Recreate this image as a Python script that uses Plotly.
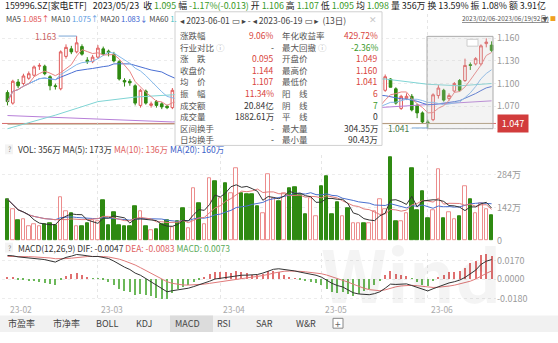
import plotly.graph_objects as go
import pandas as pd

W, H = 558, 343
def X(px): return px / W
def Y(py): return 1 - py / H

# ---------------- data ----------------
holidays = pd.to_datetime(["2023-04-05", "2023-05-01", "2023-05-02", "2023-05-03"])
days = pd.bdate_range("2023-02-06", "2023-06-19")
days = days[~days.isin(holidays)]
dates = [d.strftime("%Y-%m-%d") for d in days]

opens = [1.088, 1.074, 1.102, 1.100, 1.107, 1.111, 1.123, 1.123, 1.109, 1.097,
         1.093, 1.136, 1.146, 1.142, 1.149, 1.131, 1.129, 1.135, 1.146, 1.143,
         1.139, 1.129, 1.104, 1.103, 1.097, 1.071, 1.090, 1.071, 1.076, 1.073,
         1.070, 1.068, 1.090, 1.084, 1.077, 1.080, 1.094, 1.087, 1.092, 1.107,
         1.099, 1.106, 1.098, 1.108, 1.124, 1.117, 1.112, 1.108, 1.103, 1.108,
         1.121, 1.125, 1.117, 1.120, 1.111, 1.100, 1.092, 1.088, 1.095, 1.097,
         1.089, 1.080, 1.075, 1.068, 1.071, 1.061, 1.063, 1.066, 1.061, 1.066,
         1.072, 1.091, 1.106, 1.093, 1.067, 1.080, 1.083, 1.071, 1.061, 1.049,
         1.052, 1.084, 1.091, 1.080, 1.090, 1.104, 1.104, 1.125, 1.126, 1.126,
         1.153, 1.151]
highs = [1.091, 1.105, 1.106, 1.113, 1.116, 1.124, 1.127, 1.125, 1.111, 1.100,
         1.144, 1.152, 1.150, 1.163, 1.152, 1.135, 1.138, 1.151, 1.149, 1.145,
         1.142, 1.131, 1.107, 1.106, 1.099, 1.093, 1.092, 1.076, 1.078, 1.075,
         1.072, 1.094, 1.093, 1.087, 1.084, 1.098, 1.097, 1.095, 1.111, 1.110,
         1.109, 1.109, 1.111, 1.129, 1.127, 1.120, 1.115, 1.111, 1.111, 1.125,
         1.129, 1.128, 1.125, 1.123, 1.114, 1.103, 1.095, 1.098, 1.101, 1.100,
         1.092, 1.083, 1.078, 1.075, 1.074, 1.067, 1.069, 1.069, 1.068, 1.075,
         1.086, 1.112, 1.107, 1.095, 1.085, 1.087, 1.086, 1.073, 1.063, 1.052,
         1.087, 1.098, 1.093, 1.087, 1.102, 1.106, 1.133, 1.128, 1.135, 1.152,
         1.160, 1.156]
lows = [1.071, 1.072, 1.094, 1.098, 1.105, 1.109, 1.118, 1.111, 1.091, 1.092,
        1.091, 1.133, 1.139, 1.140, 1.137, 1.126, 1.127, 1.133, 1.137, 1.136,
        1.128, 1.104, 1.096, 1.097, 1.071, 1.068, 1.072, 1.068, 1.068, 1.066,
        1.066, 1.066, 1.083, 1.075, 1.074, 1.078, 1.086, 1.085, 1.090, 1.098,
        1.097, 1.096, 1.096, 1.106, 1.115, 1.110, 1.106, 1.102, 1.101, 1.106,
        1.119, 1.116, 1.115, 1.110, 1.098, 1.090, 1.085, 1.086, 1.093, 1.088,
        1.078, 1.073, 1.067, 1.066, 1.060, 1.059, 1.061, 1.059, 1.059, 1.064,
        1.070, 1.089, 1.095, 1.072, 1.065, 1.078, 1.063, 1.054, 1.047, 1.041,
        1.050, 1.080, 1.076, 1.077, 1.088, 1.089, 1.102, 1.118, 1.124, 1.124,
        1.148, 1.142]
closes = [1.076, 1.103, 1.097, 1.110, 1.113, 1.122, 1.124, 1.113, 1.097, 1.096,
          1.142, 1.148, 1.142, 1.154, 1.139, 1.129, 1.135, 1.147, 1.139, 1.141,
          1.130, 1.106, 1.102, 1.101, 1.074, 1.091, 1.074, 1.073, 1.071, 1.069,
          1.068, 1.091, 1.085, 1.078, 1.080, 1.095, 1.088, 1.092, 1.108, 1.100,
          1.106, 1.098, 1.108, 1.125, 1.118, 1.112, 1.108, 1.104, 1.108, 1.122,
          1.126, 1.118, 1.122, 1.112, 1.100, 1.092, 1.088, 1.095, 1.098, 1.090,
          1.080, 1.075, 1.070, 1.072, 1.062, 1.064, 1.066, 1.061, 1.066, 1.072,
          1.083, 1.109, 1.095, 1.074, 1.083, 1.083, 1.065, 1.061, 1.049, 1.047,
          1.085, 1.094, 1.078, 1.084, 1.100, 1.091, 1.124, 1.124, 1.133, 1.150,
          1.155, 1.144]
# volume, 万
volume = [178, 133, 87, 94, 63, 70, 63, 70, 77, 66,
          187, 126, 119, 63, 63, 74, 88, 84, 173, 66,
          122, 66, 63, 63, 150, 126, 60, 46, 49, 70,
          88, 56, 85, 140, 55, 225, 161, 70, 267, 257,
          183, 246, 204, 309, 204, 201, 198, 147, 117, 284,
          183, 169, 204, 225, 228, 197, 112, 183, 103, 232,
          277, 112, 164, 103, 139, 77, 77, 77, 74, 126,
          178, 135, 356, 84, 84, 119, 309, 129, 211, 98,
          131, 305, 98, 122, 91, 103, 232, 178, 119, 159,
          136, 108]
dif = [0.0218, 0.0215, 0.0205, 0.0200, 0.0195, 0.0192, 0.0188, 0.0180, 0.0168, 0.0157,
       0.0180, 0.0200, 0.0212, 0.0227, 0.0222, 0.0212, 0.0208, 0.0209, 0.0200, 0.0190,
       0.0166, 0.0135, 0.0110, 0.0088, 0.0055, 0.0035, 0.0005, -0.0027, -0.0060, -0.0090,
       -0.0118, -0.0108, -0.0100, -0.0095, -0.0085, -0.0070, -0.0055, -0.0040, -0.0020, 0.0000,
       0.0008, 0.0012, 0.0018, 0.0030, 0.0035, 0.0036, 0.0036, 0.0042, 0.0055, 0.0075,
       0.0090, 0.0095, 0.0090, 0.0082, 0.0075, 0.0064, 0.0055, 0.0045, 0.0035, 0.0018,
       -0.0010, -0.0040, -0.0060, -0.0073, -0.0100, -0.0127, -0.0138, -0.0143, -0.0145, -0.0135,
       -0.0118, -0.0085, -0.0047, -0.0050, -0.0048, -0.0045, -0.0060, -0.0078, -0.0098, -0.0110,
       -0.0090, -0.0070, -0.0055, -0.0036, -0.0025, -0.0010, 0.0015, 0.0050, 0.0082, 0.0135,
       0.0165, 0.0180]
dea = [0.0209, 0.0210, 0.0210, 0.0209, 0.0207, 0.0205, 0.0203, 0.0200, 0.0195, 0.0188,
       0.0186, 0.0189, 0.0193, 0.0200, 0.0205, 0.0208, 0.0209, 0.0210, 0.0208, 0.0204,
       0.0196, 0.0184, 0.0168, 0.0150, 0.0130, 0.0105, 0.0080, 0.0055, 0.0030, 0.0003,
       -0.0025, -0.0040, -0.0050, -0.0055, -0.0056, -0.0055, -0.0052, -0.0047, -0.0040, -0.0032,
       -0.0024, -0.0017, -0.0010, -0.0003, 0.0005, 0.0011, 0.0018, 0.0024, 0.0032, 0.0042,
       0.0055, 0.0066, 0.0072, 0.0074, 0.0074, 0.0071, 0.0067, 0.0062, 0.0057, 0.0049,
       0.0037, 0.0022, 0.0007, -0.0010, -0.0028, -0.0048, -0.0068, -0.0085, -0.0098, -0.0106,
       -0.0108, -0.0100, -0.0083, -0.0072, -0.0064, -0.0058, -0.0058, -0.0062, -0.0069, -0.0075,
       -0.0078, -0.0076, -0.0072, -0.0065, -0.0057, -0.0047, -0.0035, -0.0020, 0.0000, 0.0028,
       0.0052, 0.0075]
# long moving averages (sparse readings)
ma60_dates = ["2023-02-06", "2023-02-17", "2023-03-01", "2023-03-10", "2023-03-21",
              "2023-04-07", "2023-04-21", "2023-05-12", "2023-05-22", "2023-06-01",
              "2023-06-09", "2023-06-19"]
ma60_vals = [1.040, 1.058, 1.076, 1.082, 1.085, 1.094, 1.101, 1.106, 1.106, 1.099, 1.097, 1.100]
ma120_dates = ["2023-02-06", "2023-02-27", "2023-03-21", "2023-04-19", "2023-05-12",
               "2023-06-01", "2023-06-19"]
ma120_vals = [1.0575, 1.053, 1.049, 1.058, 1.066, 1.072, 1.077]
ma250_dates = ["2023-02-06", "2023-06-19"]
ma250_vals = [1.046, 1.047]
cursor_price = 1.047

month_dates = ["2023-02-06", "2023-03-01", "2023-04-03", "2023-05-04", "2023-06-01"]
month_labels = ["23-02", "23-03", "23-04", "23-05", "23-06"]

popup_left_labels = ["涨跌幅", "行业对比", "涨　跌", "收盘价", "均　价", "振　幅", "成交额", "成交量", "区间换手", "日均换手"]
popup_left_values = ["9.06%", "-", "0.095", "1.144", "1.107", "11.34%", "20.84亿", "1882.61万", "-", "-"]
popup_right_labels = ["年化收益率", "最大回撤", "开盘价", "最高价", "最低价", "阳　线", "阴　线", "平　线", "最大量", "最小量"]
popup_right_values = ["429.72%", "-2.36%", "1.049", "1.160", "1.041", "6", "7", "0", "304.35万", "90.43万"]

tabs = ["市盈率", "市净率", "BOLL", "KDJ", "MACD", "RSI", "SAR", "W&R"]

# ---------------- styles ----------------
RED = "#e05a5a"
GRN = "#2f8a12"
FONT = "Noto Sans CJK SC, DejaVu Sans, sans-serif"
up = [c >= o for o, c in zip(opens, closes)]

s_close = pd.Series(closes)
ma5 = s_close.rolling(5, min_periods=1).mean()
ma10 = s_close.rolling(10, min_periods=1).mean()
ma20 = s_close.rolling(20, min_periods=1).mean()
s_vol = pd.Series(volume)
vma5 = s_vol.rolling(5, min_periods=1).mean()
vma10 = s_vol.rolling(10, min_periods=1).mean()
vma20 = s_vol.rolling(20, min_periods=1).mean()
macd = [2 * (a - b) for a, b in zip(dif, dea)]

fig = go.Figure()
# price pane
for xs, ys, col in [(ma250_dates, ma250_vals, "#b2a383"), (ma120_dates, ma120_vals, "#b77fd8"),
                    (ma60_dates, ma60_vals, "#7fd4d4"), (dates, ma20, "#4a6fd3"),
                    (dates, ma10, "#86b9ea"), (dates, ma5, "#e98484")]:
    fig.add_trace(go.Scatter(x=xs, y=ys, mode="lines", line=dict(color=col, width=1),
                             xaxis="x", yaxis="y", hoverinfo="skip"))
fig.add_trace(go.Candlestick(x=dates, open=opens, high=highs, low=lows, close=closes,
                             increasing=dict(line=dict(color=RED, width=1), fillcolor="white"),
                             decreasing=dict(line=dict(color=GRN, width=1), fillcolor=GRN),
                             whiskerwidth=0, xaxis="x", yaxis="y", hoverinfo="skip"))
# volume pane
fig.add_trace(go.Bar(x=dates, y=volume, width=0.66,
                     marker=dict(color=["white" if u else GRN for u in up],
                                 line=dict(color=["#ec8c8c" if u else GRN for u in up], width=1)),
                     xaxis="x2", yaxis="y2", hoverinfo="skip"))
for ys, col in [(vma20, "#4a70d0"), (vma10, "#e07a7a"), (vma5, "#333333")]:
    fig.add_trace(go.Scatter(x=dates, y=ys, mode="lines", line=dict(color=col, width=1),
                             xaxis="x2", yaxis="y2", hoverinfo="skip"))
# macd pane
fig.add_trace(go.Bar(x=dates, y=macd, width=0.22,
                     marker=dict(color=["#e07070" if v >= 0 else "#6cb85a" for v in macd], line=dict(width=0)),
                     xaxis="x3", yaxis="y3", hoverinfo="skip"))
fig.add_trace(go.Scatter(x=dates, y=dea, mode="lines", line=dict(color="#e07a7a", width=1),
                         xaxis="x3", yaxis="y3", hoverinfo="skip"))
fig.add_trace(go.Scatter(x=dates, y=dif, mode="lines", line=dict(color="#333333", width=1),
                         xaxis="x3", yaxis="y3", hoverinfo="skip"))

xr = [-1.03, 91.83]
xcommon = dict(type="category", categoryorder="array", categoryarray=dates, range=xr,
               domain=[X(2), X(496)], showticklabels=False,
               tickvals=month_dates[1:], showgrid=True, gridcolor="#e6e6e6", griddash="dot",
               zeroline=False, showline=False, ticks="")
ycommon = dict(side="right", showgrid=True, gridcolor="#ececec", griddash="dot", zeroline=False,
               showline=False, ticks="", tickfont=dict(size=9, color="#9a9a9a", family=FONT))
fig.update_layout(
    width=W, height=H, margin=dict(l=0, r=0, t=0, b=0), showlegend=False,
    paper_bgcolor="white", plot_bgcolor="white", bargap=0,
    font=dict(family=FONT, size=9, color="#333"),
    xaxis=dict(xcommon, anchor="y", rangeslider=dict(visible=False)),
    xaxis2=dict(xcommon, anchor="y2", matches="x"),
    xaxis3=dict(xcommon, anchor="y3", matches="x"),
    yaxis=dict(ycommon, domain=[Y(138), Y(14)], range=[1.0309, 1.1926],
               tickvals=[1.04, 1.07, 1.10, 1.13, 1.16], ticktext=["1.040", "1.070", "1.100", "1.130", "1.160"]),
    yaxis2=dict(ycommon, domain=[Y(245), Y(158)], range=[0, 366.6],
                tickvals=[0, 142, 284], ticktext=["0", "142万", "284万"]),
    yaxis3=dict(ycommon, domain=[Y(306), Y(258)], range=[-0.02, 0.02364],
                tickvals=[-0.018, 0, 0.017], ticktext=["-0.0180", "0.0000", "0.0170"]),
)

shapes = []
anns = []
def txt(px, py, s, size=9, color="#333", anchor="left", **kw):
    anns.append(dict(x=X(px), y=Y(py), xref="paper", yref="paper", text=s, showarrow=False,
                     xanchor=anchor, yanchor="middle", font=dict(size=size, color=color, family=FONT), **kw))

# cursor line + selection box
shapes.append(dict(type="line", xref="paper", yref="y", x0=X(2), x1=X(496), y0=cursor_price, y1=cursor_price,
                   line=dict(color="#d96a6a", width=1), layer="below"))
shapes.append(dict(type="rect", xref="paper", yref="paper", x0=X(427), x1=X(493), y0=Y(131), y1=Y(37),
                   fillcolor="rgba(200,200,200,0.22)", line=dict(color="#aaaaaa", width=1), layer="above"))
shapes.append(dict(type="rect", xref="paper", yref="paper", x0=X(467), x1=X(478), y0=Y(47), y1=Y(40),
                   fillcolor="white", line=dict(color="#cccccc", width=1), layer="above"))
# popup box
shapes.append(dict(type="rect", xref="paper", yref="paper", x0=X(175), x1=X(382), y0=Y(148), y1=Y(12),
                   fillcolor="white", line=dict(color="#d0d0d0", width=1), layer="above"))
# bottom tab bar
shapes.append(dict(type="rect", xref="paper", yref="paper", x0=0, x1=1, y0=Y(338), y1=Y(321),
                   fillcolor="#f1f1f1", line=dict(width=0), layer="above"))
shapes.append(dict(type="rect", xref="paper", yref="paper", x0=X(170), x1=X(213), y0=Y(338), y1=Y(321),
                   fillcolor="#dcdcdc", line=dict(width=0), layer="above"))
shapes.append(dict(type="rect", xref="paper", yref="paper", x0=X(333), x1=X(343), y0=Y(334), y1=Y(324),
                   fillcolor="white", line=dict(color="#888", width=1), layer="above"))
# ? boxes
for py in (152, 252):
    shapes.append(dict(type="rect", xref="paper", yref="paper", x0=X(5), x1=X(13), y0=Y(py + 5), y1=Y(py - 5),
                       fillcolor="#f3f3f3", line=dict(width=0), layer="above"))

G = "#3a9a2a"
def sp(s, c): return f"<span style='color:{c}'>{s}</span>"
nb = "\u00a0"
row1 = ("159996.SZ[家电ETF]" + nb * 3 + "2023/05/23" + nb * 2 + "收 " + sp("1.095", G) + nb + "幅 " +
        sp("-1.17%(-0.013)", G) + nb + "开 " + sp("1.106", G) + nb + "高 " + sp("1.107", G) + nb +
        "低 " + sp("1.095", G) + nb + "均 " + sp("1.098", G) + nb + "量 356万" + nb + "换 13.59%" +
        nb + "振 1.08%" + nb + "额 3.91亿")
txt(3, 6, row1, size=8.9, color="#222")
row2 = ("MA5 " + sp("1.085↑", "#e04848") + nb + "MA10 " + sp("1.075↑", "#5a9ae0") + nb + "MA20 " +
        sp("1.083↓", "#3a5fd0") + nb + "MA60 " + sp("1.", "#3cc0c0"))
txt(4, 19, row2, size=7.6, color="#444")
txt(178, 20, "◂ 2023-06-01 ▭ ▸" + nb + "-" + nb + "◂ 2023-06-19 ▭ ▸" + nb * 2 + "(13日)", size=8.5, color="#444")
txt(373, 20, "✕", size=9, color="#c8c8c8", anchor="center")
txt(460, 19, "<u>2023/02/06-2023/06/19(92日)</u>", size=6.4, color="#555")
txt(545, 19, "▼", size=6, color="#555", anchor="center")
txt(553, 19, "■", size=6, color="#f0a020", anchor="center")

RED_T = "#d8443c"
left_cols = [RED_T, "#333", RED_T, RED_T, RED_T, RED_T, "#333", "#333", "#333", "#333"]
right_cols = [RED_T, G, RED_T, RED_T, RED_T, RED_T, G, "#333", "#333", "#333"]
for k in range(10):
    py = 35.7 + 11.8 * k
    lab = popup_left_labels[k] + (" <span style='color:#bbb'>ⓘ</span>" if k == 1 else "")
    txt(178, py, lab, size=8.5, color="#555")
    txt(276, py, popup_left_values[k], size=8.5, color=left_cols[k], anchor="right")
    lab2 = popup_right_labels[k] + (" <span style='color:#bbb'>ⓘ</span>" if k == 1 else "")
    txt(280, py, lab2, size=8.5, color="#555")
    txt(380, py, popup_right_values[k], size=8.5, color=right_cols[k], anchor="right")

# price marks
anns.append(dict(x=dates[13], y=1.163, xref="x", yref="y", text="1.163", showarrow=True, arrowhead=0,
                 ax=-18, ay=0, arrowcolor="#7aa6d6", arrowwidth=1, xanchor="right",
                 font=dict(size=8.5, color="#c86060", family=FONT)))
anns.append(dict(x=dates[79], y=1.041, xref="x", yref="y", text="1.041", showarrow=True, arrowhead=0,
                 ax=-16, ay=0, arrowcolor="#7aa6d6", arrowwidth=1, xanchor="right",
                 font=dict(size=8.5, color="#4a7a4a", family=FONT)))
anns.append(dict(x=X(497), y=cursor_price, xref="paper", yref="y", text=f"{cursor_price:.3f}", showarrow=False,
                 xanchor="left", yanchor="middle", bgcolor="#d23c3c", borderpad=2, width=26,
                 font=dict(size=9, color="white", family=FONT)))

# pane labels
txt(9, 152, "?", size=7, color="#888", anchor="center")
txt(16, 152, "VOL: 356万" + nb + "MA(5): 173万" + nb + sp("MA(10): 136万", "#e06060") + nb +
    sp("MA(20): 160万", "#3a60c8"), size=8.5, color="#333")
txt(9, 252, "?", size=7, color="#888", anchor="center")
txt(16, 252, "MACD(12,26,9)" + nb + "DIF: -0.0047" + nb + sp("DEA: -0.0083", "#e06060") + nb +
    sp("MACD: 0.0073", "#5aaa5a"), size=8.5, color="#333")
# watermark
txt(411, 276, "<b>Wind</b>", size=72, color="rgba(0,0,0,0.045)", anchor="center")
# month labels
month_px = [7, 98, 220, 322, 428]
for px, lab in zip(month_px, month_labels):
    txt(px + 1, 315, lab, size=8.5, color="#aaaaaa")
# tabs
tab_px = [21, 66, 107, 144, 187, 224, 264, 305.5]
for px, lab in zip(tab_px, tabs):
    txt(px, 329.5, lab, size=9, color="#444", anchor="center")
txt(338, 329, "+", size=10, color="#666", anchor="center")

fig.update_layout(shapes=shapes, annotations=anns)
fig.write_html("out.html")
